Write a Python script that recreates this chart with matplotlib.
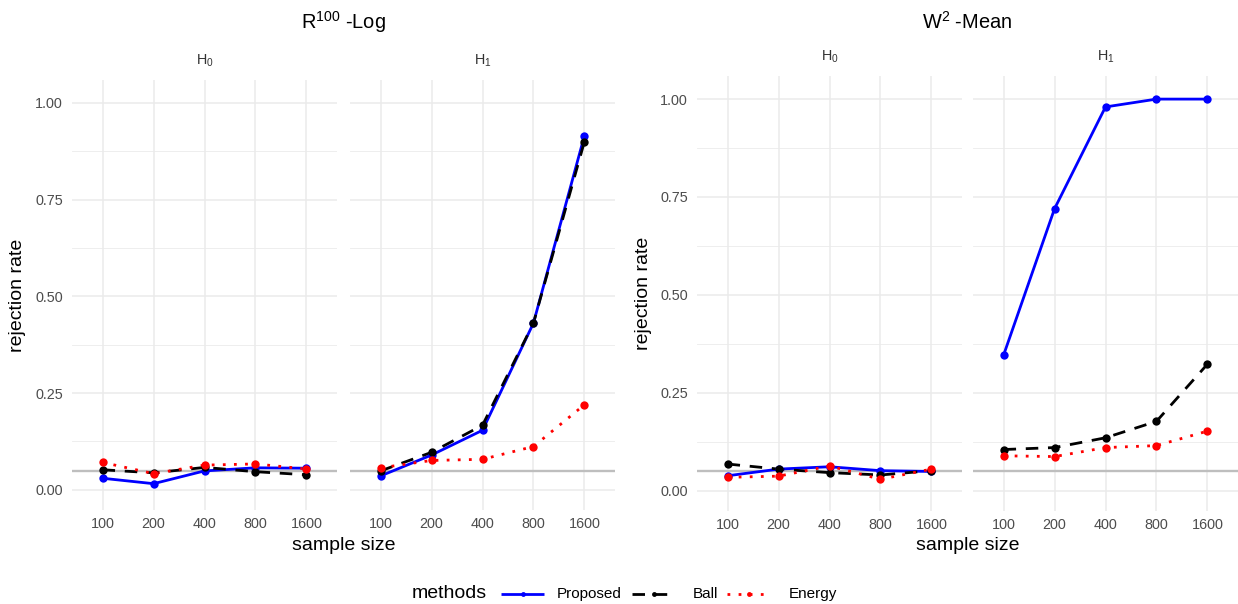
import matplotlib
matplotlib.use("Agg")
import matplotlib.pyplot as plt
from matplotlib.lines import Line2D
import numpy as np

plt.rcParams['font.family'] = ['Liberation Sans', 'DejaVu Sans']
plt.rcParams['mathtext.fontset'] = 'custom'
plt.rcParams['mathtext.rm'] = 'Liberation Sans'
plt.rcParams['mathtext.it'] = 'Liberation Sans:italic'
plt.rcParams['mathtext.bf'] = 'Liberation Sans:bold'

# ---------------- data ----------------
sizes = ['100', '200', '400', '800', '1600']
methods = ['Proposed', 'Ball', 'Energy']
hypotheses = ['H$_{\\mathrm{0}}$', 'H$_{\\mathrm{1}}$']
group_titles = ['R$^{\\mathrm{100}}$ -Log', 'W$^{\\mathrm{2}}$ -Mean']

r_log_h0_proposed = [0.030, 0.016, 0.049, 0.057, 0.056]
r_log_h0_ball = [0.052, 0.044, 0.058, 0.047, 0.039]
r_log_h0_energy = [0.071, 0.042, 0.064, 0.067, 0.054]
r_log_h1_proposed = [0.036, 0.090, 0.154, 0.431, 0.915]
r_log_h1_ball = [0.049, 0.097, 0.167, 0.431, 0.900]
r_log_h1_energy = [0.057, 0.076, 0.079, 0.112, 0.220]

w_mean_h0_proposed = [0.038, 0.055, 0.061, 0.051, 0.049]
w_mean_h0_ball = [0.068, 0.055, 0.046, 0.040, 0.051]
w_mean_h0_energy = [0.034, 0.037, 0.063, 0.029, 0.055]
w_mean_h1_proposed = [0.346, 0.720, 0.980, 1.000, 1.000]
w_mean_h1_ball = [0.105, 0.110, 0.135, 0.177, 0.323]
w_mean_h1_energy = [0.089, 0.087, 0.110, 0.115, 0.152]

nominal_level = 0.05
y_ticks = [0.00, 0.25, 0.50, 0.75, 1.00]
y_minor = [0.125, 0.375, 0.625, 0.875]

panels = [
    [[r_log_h0_proposed, r_log_h0_ball, r_log_h0_energy],
     [r_log_h1_proposed, r_log_h1_ball, r_log_h1_energy]],
    [[w_mean_h0_proposed, w_mean_h0_ball, w_mean_h0_energy],
     [w_mean_h1_proposed, w_mean_h1_ball, w_mean_h1_energy]],
]

# ---------------- style ----------------
colors = {'Proposed': '#0000FF', 'Ball': '#000000', 'Energy': '#FF0000'}
styles = {'Proposed': '-', 'Ball': (0, (4.5, 3.5)), 'Energy': (0, (1, 3))}
LW = 2.0
MS = 6.0
GRID = '#EBEBEB'
TICKC = '#4D4D4D'

W, H = 1238, 604
fig = plt.figure(figsize=(W / 100, H / 100), dpi=100)
fig.patch.set_facecolor('white')


def px_axes(x0, y0, x1, y1):
    return fig.add_axes([x0 / W, 1 - y1 / H, (x1 - x0) / W, (y1 - y0) / H])


# panel pixel boxes: (x0, top, x1, bottom)
boxes = [
    [(72, 80, 337, 510), (350, 80, 615, 510)],
    [(697, 76, 962, 511), (973, 76, 1238, 511)],
]

for g in range(2):
    for h in range(2):
        x0, y0, x1, y1 = boxes[g][h]
        ax = px_axes(x0, y0, x1, y1)
        ax.set_facecolor('white')
        for s in ax.spines.values():
            s.set_visible(False)
        series = panels[g][h]
        for m, vals in zip(methods, series):
            ax.plot(sizes, vals, color=colors[m], linestyle=styles[m], lw=LW,
                    zorder=3, dash_capstyle='butt', solid_capstyle='butt')
        for m, vals in zip(methods, series):
            ax.plot(sizes, vals, linestyle='none', marker='o', ms=MS,
                    color=colors[m], markeredgewidth=0, zorder=4)
        ax.axhline(nominal_level, color='#BEBEBE', lw=1.7, zorder=2)
        ax.set_xlim(-0.6, 4.6)
        ax.set_ylim(-0.052, 1.059)
        ax.set_yticks(y_ticks)
        ax.set_yticks(y_minor, minor=True)
        ax.grid(True, which='major', color=GRID, lw=1.1, zorder=0)
        ax.grid(True, which='minor', axis='y', color=GRID, lw=0.6, zorder=0)
        ax.set_axisbelow(True)
        ax.tick_params(axis='both', which='both', length=0, colors=TICKC,
                       labelsize=10.4)
        ax.tick_params(axis='x', pad=5)
        ax.tick_params(axis='y', pad=6.5)
        if h == 0:
            ax.set_yticklabels(['%.2f' % v for v in y_ticks])
        else:
            ax.set_yticklabels([])
        ax.text(0.5, 1.0 + 19 / (y1 - y0), hypotheses[h], transform=ax.transAxes,
                ha='center', va='center', fontsize=10.4, color='#333333')

    gx0 = boxes[g][0][0]
    gx1 = boxes[g][1][2]
    cx = (gx0 + gx1) / 2
    top = boxes[g][0][1]
    bot = boxes[g][0][3]
    fig.text(cx / W, 1 - 22 / H, group_titles[g], ha='center', va='center',
             fontsize=14.4, color='black')
    fig.text(cx / W, 1 - 545 / H, 'sample size', ha='center', va='center',
             fontsize=14, color='black')
    ylx = 18 if g == 0 else 643
    fig.text(ylx / W, 1 - ((top + bot) / 2) / H, 'rejection rate', ha='center',
             va='center', rotation=90, fontsize=14, color='black')

# ---------------- legend ----------------
ly = 1 - 594 / H
fig.text(412 / W, ly, 'methods', ha='left', va='center', fontsize=14, color='black')
key_pos = [(501, 544, 557), (632, 675, 693), (727, 770, 789)]
for m, (k0, k1, tx) in zip(methods, key_pos):
    fig.add_artist(Line2D([k0 / W, k1 / W], [ly, ly], transform=fig.transFigure,
                          color=colors[m], linestyle=styles[m], lw=LW,
                          dash_capstyle='butt', solid_capstyle='butt'))
    fig.add_artist(Line2D([(k0 + k1) / 2 / W], [ly], transform=fig.transFigure,
                          color=colors[m], marker='o', ms=3.5, markeredgewidth=0,
                          linestyle='none'))
    fig.text(tx / W, ly, m, ha='left', va='center', fontsize=11, color='black')

fig.savefig('out.png', dpi=100, facecolor='white')
